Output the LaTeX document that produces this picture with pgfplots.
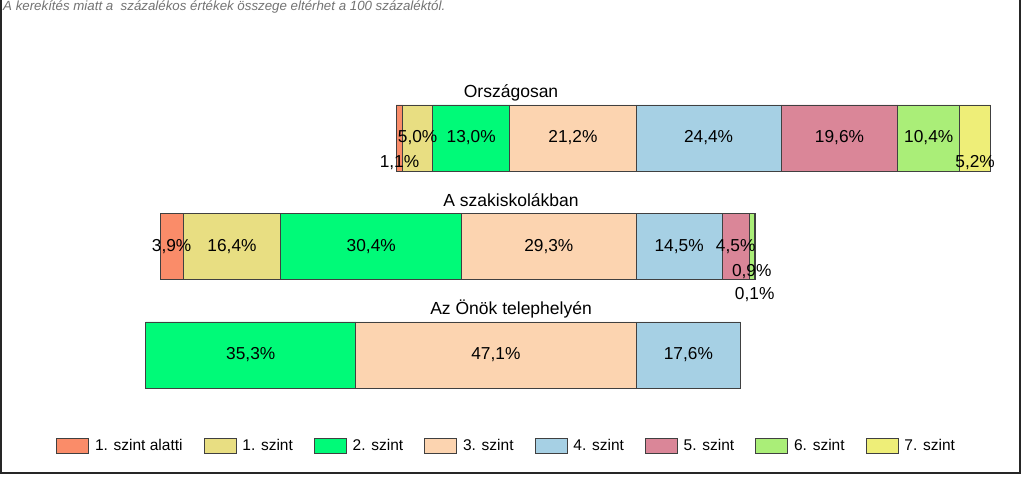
\documentclass[border=0pt]{standalone}
\usepackage{fontspec}
\setmainfont{Liberation Sans}
\usepackage{pgfplots}
\usepackage{pgfplotstable}
\pgfplotsset{compat=1.18}
\definecolor{c0}{RGB}{250,140,105}
\definecolor{c1}{RGB}{232,222,130}
\definecolor{c2}{RGB}{0,250,120}
\definecolor{c3}{RGB}{252,212,176}
\definecolor{c4}{RGB}{166,208,228}
\definecolor{c5}{RGB}{218,134,152}
\definecolor{c6}{RGB}{170,238,120}
\definecolor{c7}{RGB}{238,238,120}
\definecolor{edge}{RGB}{64,64,64}
\pgfplotstableread{
y off a s1 s2 s3 s4 s5 s6 s7
2 -40.3 1.1 5.0 13.0 21.2 24.4 19.6 10.4 5.2
1 -80.0 3.9 16.4 30.4 29.3 14.5 4.5 0.9 0.1
0 -82.4 0 0 35.3 47.1 17.6 0 0 0
}\data
\pgfplotsset{sq/.style={draw=edge, line width=0.8pt, legend image code/.code={\draw[##1] (0pt,-7.5pt) rectangle (32pt,7.5pt);}}}
\tikzset{lbl/.style={font=\fontsize{17.3}{20}\selectfont, inner sep=0pt},
  ttl/.style={font=\fontsize{17.5}{20}\selectfont, inner sep=0pt, anchor=base}}
\begin{document}
\begin{tikzpicture}[x=1pt,y=1pt]
\useasboundingbox (0,0) rectangle (1024,478);
\fill[white] (0,0) rectangle (1024,478);
\draw[line width=2pt, color=black!85] (1,478) -- (1,5) -- (1020,5) -- (1020,478);
\node[anchor=base west, font=\fontsize{13.3}{15}\selectfont\itshape, text=black!55, inner sep=0pt] at (3,467) {A kerekítés miatt a \ százalékos értékek összege eltérhet a 100 százaléktól.};
\begin{axis}[at={(41pt,68.75pt)}, anchor=south west, scale only axis,
  width=952pt, height=325.5pt, xmin=-100, xmax=60, ymin=-0.5, ymax=2.5,
  hide axis, xbar stacked, stack negative=on previous, bar width=66pt, clip=false,
  legend columns=8,
  legend style={at={(0.488,-0.113)}, anchor=center, draw=none, fill=none,
    font=\fontsize{15.5}{18}\selectfont, nodes={inner sep=0pt},
    /tikz/every odd column/.append style={column sep=6pt},
    /tikz/every even column/.append style={column sep=21pt}},
]
\addplot[draw=none, fill=none, forget plot] table[x=off, y=y] {\data};
\addplot[fill=c0, sq] table[x=a, y=y] {\data};
\addplot[fill=c1, sq] table[x=s1, y=y] {\data};
\addplot[fill=c2, sq] table[x=s2, y=y] {\data};
\addplot[fill=c3, sq] table[x=s3, y=y] {\data};
\addplot[fill=c4, sq] table[x=s4, y=y] {\data};
\addplot[fill=c5, sq] table[x=s5, y=y] {\data};
\addplot[fill=c6, sq] table[x=s6, y=y] {\data};
\addplot[fill=c7, sq] table[x=s7, y=y] {\data};
\legend{1. szint alatti, 1. szint, 2. szint, 3. szint, 4. szint, 5. szint, 6. szint, 7. szint}
\coordinate (T1) at (axis cs:-21.0,2.369);
\coordinate (T2) at (axis cs:-21.0,1.369);
\coordinate (T3) at (axis cs:-21.0,0.369);
\coordinate (L1) at (axis cs:-39.75,1.77);
\coordinate (L2) at (axis cs:-36.7,2);
\coordinate (L3) at (axis cs:-27.7,2);
\coordinate (L4) at (axis cs:-10.6,2);
\coordinate (L5) at (axis cs:12.2,2);
\coordinate (L6) at (axis cs:34.2,2);
\coordinate (L7) at (axis cs:49.2,2);
\coordinate (L8) at (axis cs:57.0,1.77);
\coordinate (M1) at (axis cs:-78.05,1);
\coordinate (M2) at (axis cs:-67.9,1);
\coordinate (M3) at (axis cs:-44.5,1);
\coordinate (M4) at (axis cs:-14.65,1);
\coordinate (M5) at (axis cs:7.25,1);
\coordinate (M6) at (axis cs:16.75,1);
\coordinate (M7) at (axis cs:19.45,0.77);
\coordinate (M8) at (axis cs:19.95,0.56);
\coordinate (N3) at (axis cs:-64.75,0);
\coordinate (N4) at (axis cs:-23.55,0);
\coordinate (N5) at (axis cs:8.8,0);
\end{axis}
\node[ttl] at (T1) {Országosan};
\node[ttl] at (T2) {A szakiskolákban};
\node[ttl] at (T3) {Az Önök telephelyén};
\node[lbl] at (L1) {1,1\%};
\node[lbl] at (L2) {5,0\%};
\node[lbl] at (L3) {13,0\%};
\node[lbl] at (L4) {21,2\%};
\node[lbl] at (L5) {24,4\%};
\node[lbl] at (L6) {19,6\%};
\node[lbl] at (L7) {10,4\%};
\node[lbl] at (L8) {5,2\%};
\node[lbl] at (M1) {3,9\%};
\node[lbl] at (M2) {16,4\%};
\node[lbl] at (M3) {30,4\%};
\node[lbl] at (M4) {29,3\%};
\node[lbl] at (M5) {14,5\%};
\node[lbl] at (M6) {4,5\%};
\node[lbl] at (M7) {0,9\%};
\node[lbl] at (M8) {0,1\%};
\node[lbl] at (N3) {35,3\%};
\node[lbl] at (N4) {47,1\%};
\node[lbl] at (N5) {17,6\%};
\end{tikzpicture}
\end{document}
